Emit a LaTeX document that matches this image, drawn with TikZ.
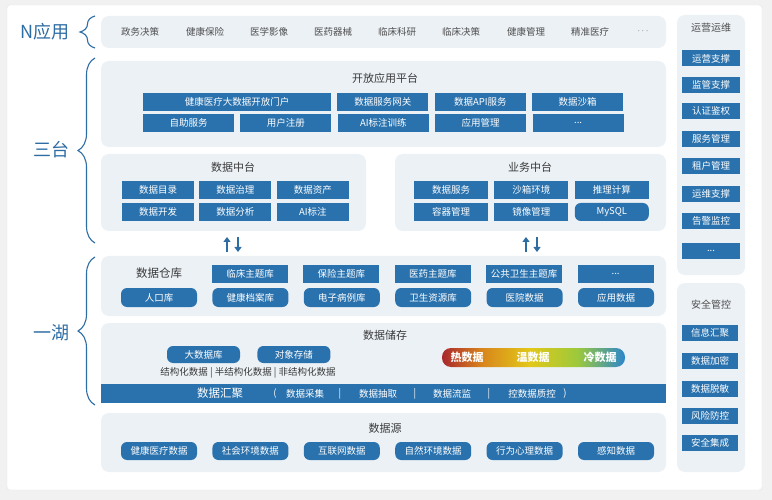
\documentclass[tikz,border=0pt]{standalone}
\usepackage{fontspec}
\setmainfont{Noto Sans CJK SC}
\usetikzlibrary{positioning,arrows.meta}
\usetikzlibrary{decorations.pathreplacing}
\usepackage{xcolor}

\definecolor{boxblue}{HTML}{2A72AE}
\definecolor{panelgray}{HTML}{ECF1F6}
\definecolor{labelblue}{HTML}{2E6DA4}
\definecolor{titlegray}{HTML}{3A3A3A}
\definecolor{pagegray}{HTML}{F1F1F1}
\definecolor{heatred}{HTML}{A9272D}
\definecolor{heatorange}{HTML}{D9861C}
\definecolor{heatyellow}{HTML}{E2C818}
\definecolor{heatgreen}{HTML}{9CC93C}
\definecolor{heatblue}{HTML}{2C86CC}
\pgfdeclarehorizontalshading{heatbar}{100bp}{color(0bp)=(heatred); color(25bp)=(heatred); color(36bp)=(heatorange); color(49bp)=(heatyellow); color(62bp)=(heatgreen); color(75bp)=(heatblue); color(100bp)=(heatblue)}

\begin{document}
\begin{tikzpicture}[x=1pt,y=-1pt,node distance=5pt,
  panel/.style={fill=panelgray,rounded corners=8pt,inner sep=0pt},
  bbox/.style={fill=boxblue,text=white,inner sep=0pt,minimum height=18pt,font=\fontsize{9.5}{10}\selectfont},
  pill/.style={bbox,rounded corners=6pt},
  sidebox/.style={bbox,minimum width=58pt,minimum height=16pt},
  ptitle/.style={text=titlegray,font=\fontsize{11}{12}\selectfont},
  appitem/.style={text=titlegray!90,font=\fontsize{9.5}{10}\selectfont},
  biglabel/.style={text=labelblue,font=\fontsize{18}{20}\selectfont},
  sbrace/.style={draw=labelblue,line width=1.1pt,decorate,decoration={brace,amplitude=17pt}},
  barfont/.style={text=white,font=\fontsize{9.5}{10}\selectfont},
  updown/.style={draw=labelblue,line width=2pt,-{Triangle[length=5pt,width=7pt]}}]

  % page and card
  \fill[pagegray] (0,0) rectangle (772,500);
  \draw[fill=white,draw=black!10,rounded corners=3pt] (7,5) rectangle (762,490);
  \useasboundingbox (0,0) rectangle (772,500);

  % left labels and braces
  \node[biglabel] (lbN)  at (45,32)  {N应用};
  \node[biglabel] (lbS)  at (51,150) {三台};
  \node[biglabel] (lbH)  at (51,333) {一湖};
  \coordinate (bN1) at (95,48);  \coordinate (bN2) at (95,16);
  \coordinate (bS1) at (95,243); \coordinate (bS2) at (95,58);
  \coordinate (bH1) at (95,405); \coordinate (bH2) at (95,257);
  \draw[sbrace,decoration={amplitude=15pt}] (bN1) -- (bN2);
  \draw[sbrace] (bS1) -- (bS2);
  \draw[sbrace] (bH1) -- (bH2);

  % N applications
  \node[panel,minimum width=565pt,minimum height=32pt] (napp) at (383.5,32) {};
  \node[appitem] (a1) at (140,32) {政务决策};
  \node[appitem] (a2) at (205,32) {健康保险};
  \node[appitem] (a3) at (269,32) {医学影像};
  \node[appitem] (a4) at (333,32) {医药器械};
  \node[appitem] (a5) at (397,32) {临床科研};
  \node[appitem] (a6) at (461,32) {临床决策};
  \node[appitem] (a7) at (526,32) {健康管理};
  \node[appitem] (a8) at (590,32) {精准医疗};
  \node[appitem] (a9) at (643,31) {$\cdots$};

  % open platform
  \node[panel,minimum width=565pt,minimum height=86pt] (open) at (383.5,104) {};
  \node[ptitle] (openT) at (385,78) {开放应用平台};
  \node[bbox,minimum width=188pt] (op1) at (237,102) {健康医疗大数据开放门户};
  \node[bbox,minimum width=91pt,right=6pt of op1] (op2) {数据服务网关};
  \node[bbox,minimum width=91pt,right=6pt of op2] (op3) {数据API服务};
  \node[bbox,minimum width=91pt,right=6pt of op3] (op4) {数据沙箱};
  \node[bbox,minimum width=91pt] (op5) at (188.5,123) {自助服务};
  \node[bbox,minimum width=91pt,right=6pt of op5] (op6) {用户注册};
  \node[bbox,minimum width=91pt,right=6pt of op6] (op7) {AI标注训练};
  \node[bbox,minimum width=91pt,right=6pt of op7] (op8) {应用管理};
  \node[bbox,minimum width=91pt,right=6pt of op8] (op9) {...};

  % data middle platform
  \node[panel,minimum width=265pt,minimum height=77pt] (dmid) at (233.5,192.5) {};
  \node[ptitle] (dmidT) at (233,167) {数据中台};
  \node[bbox,minimum width=72pt] (dm1) at (158,190) {数据目录};
  \node[bbox,minimum width=72pt,right=of dm1] (dm2) {数据治理};
  \node[bbox,minimum width=72pt,right=of dm2] (dm3) {数据资产};
  \node[bbox,minimum width=72pt] (dm4) at (158,212) {数据开发};
  \node[bbox,minimum width=72pt,right=of dm4] (dm5) {数据分析};
  \node[bbox,minimum width=72pt,right=of dm5] (dm6) {AI标注};

  % business middle platform
  \node[panel,minimum width=271pt,minimum height=77pt] (bmid) at (530.5,192.5) {};
  \node[ptitle] (bmidT) at (530,167) {业务中台};
  \node[bbox,minimum width=74pt] (bm1) at (451,190) {数据服务};
  \node[bbox,minimum width=74pt,right=6pt of bm1] (bm2) {沙箱环境};
  \node[bbox,minimum width=74pt,right=6pt of bm2] (bm3) {推理计算};
  \node[bbox,minimum width=74pt] (bm4) at (451,212) {容器管理};
  \node[bbox,minimum width=74pt,right=6pt of bm4] (bm5) {镜像管理};
  \node[pill,minimum width=74pt,right=6pt of bm5] (bm6) {MySQL};

  % data warehouse
  \node[panel,minimum width=565pt,minimum height=60pt] (dw) at (383.5,286) {};
  \coordinate (dwL) at (227,256); \coordinate (dwR) at (526,256);
  \coordinate (dmB) at (238,237); \coordinate (bmB) at (537,237);
  \draw[updown] (dwL) ++(0,-4) -- ++(0,-15);
  \draw[updown] (dmB) -- ++(0,15);
  \draw[updown] (dwR) ++(0,-4) -- ++(0,-15);
  \draw[updown] (bmB) -- ++(0,15);
  \node[ptitle,font=\fontsize{11.5}{12}\selectfont] (dwT) at (159,273) {数据仓库};
  \node[bbox,minimum width=76pt] (dw1) at (250,274) {临床主题库};
  \node[bbox,minimum width=76pt,right=15pt of dw1] (dw2) {保险主题库};
  \node[bbox,minimum width=76pt,right=15pt of dw2] (dw3) {医药主题库};
  \node[bbox,minimum width=76pt,right=15pt of dw3] (dw4) {公共卫生主题库};
  \node[bbox,minimum width=76pt,right=15pt of dw4] (dw5) {...};
  \node[pill,minimum width=76pt,minimum height=19pt] (dw6) at (159,297.5) {人口库};
  \node[pill,minimum width=76pt,minimum height=19pt,right=15pt of dw6] (dw7) {健康档案库};
  \node[pill,minimum width=76pt,minimum height=19pt,right=15pt of dw7] (dw8) {电子病例库};
  \node[pill,minimum width=76pt,minimum height=19pt,right=15pt of dw8] (dw9) {卫生资源库};
  \node[pill,minimum width=76pt,minimum height=19pt,right=15pt of dw9] (dw10) {医院数据};
  \node[pill,minimum width=76pt,minimum height=19pt,right=15pt of dw10] (dw11) {应用数据};

  % data storage
  \node[panel,minimum width=565pt,minimum height=72pt] (ds) at (383.5,359) {};
  \node[ptitle] (dsT) at (385,335) {数据储存};
  \node[pill,minimum width=73pt,minimum height=17pt] (ds1) at (203.5,354.5) {大数据库};
  \node[pill,minimum width=73pt,minimum height=17pt,right=17pt of ds1] (ds2) {对象存储};
  \node[text=titlegray,font=\fontsize{9.5}{10}\selectfont] (dsS) at (248,373) {结构化数据 | 半结构化数据 | 非结构化数据};
  \node[shading=heatbar,rounded corners=9pt,minimum width=183pt,minimum height=19pt,inner sep=0pt] (heat) at (533.5,357.5) {};
  \node[text=white,font=\bfseries\fontsize{11}{12}\selectfont] (hot)  at (467,357.5) {热数据};
  \node[text=white,font=\bfseries\fontsize{11}{12}\selectfont] (warm) at (533,357.5) {温数据};
  \node[text=white,font=\bfseries\fontsize{11}{12}\selectfont] (cold) at (600,357.5) {冷数据};

  % data aggregation bar
  \node[fill=boxblue,minimum width=565pt,minimum height=19pt,inner sep=0pt] (agg) at (383.5,393.5) {};
  \node[barfont,font=\fontsize{11.5}{12}\selectfont] (agg0) at (220,393.5) {数据汇聚};
  \node[barfont] (aggL) at (275,393.5) {(};
  \node[barfont] (agg1) at (305,393.5) {数据采集};
  \node[barfont] (s1)   at (340,393.5) {|};
  \node[barfont] (agg2) at (378,393.5) {数据抽取};
  \node[barfont] (s2)   at (415,393.5) {|};
  \node[barfont] (agg3) at (452,393.5) {数据流监};
  \node[barfont] (s3)   at (489,393.5) {|};
  \node[barfont] (agg4) at (532,393.5) {控数据质控};
  \node[barfont] (aggR) at (565,393.5) {)};

  % data sources
  \node[panel,minimum width=565pt,minimum height=59pt] (src) at (383.5,442.5) {};
  \node[ptitle] (srcT) at (385,428) {数据源};
  \node[pill,minimum width=76pt] (sr1) at (159,451) {健康医疗数据};
  \node[pill,minimum width=76pt,right=15pt of sr1] (sr2) {社会环境数据};
  \node[pill,minimum width=76pt,right=15pt of sr2] (sr3) {互联网数据};
  \node[pill,minimum width=76pt,right=15pt of sr3] (sr4) {自然环境数据};
  \node[pill,minimum width=76pt,right=15pt of sr4] (sr5) {行为心理数据};
  \node[pill,minimum width=76pt,right=15pt of sr5] (sr6) {感知数据};

  % operations column
  \node[panel,minimum width=68pt,minimum height=260pt] (ops) at (711,145) {};
  \node[appitem,font=\fontsize{10}{11}\selectfont] (opsT) at (711,28) {运营运维};
  \node[sidebox] (o1) at (711,58.5) {运营支撑};
  \node[sidebox] (o2) at (711,85)   {监管支撑};
  \node[sidebox] (o3) at (711,111)  {认证鉴权};
  \node[sidebox] (o4) at (711,139)  {服务管理};
  \node[sidebox] (o5) at (711,166)  {租户管理};
  \node[sidebox] (o6) at (711,194)  {运维支撑};
  \node[sidebox] (o7) at (711,221)  {告警监控};
  \node[sidebox] (o8) at (711,251)  {...};

  % security column
  \node[panel,minimum width=68pt,minimum height=189pt] (sec) at (711,377.5) {};
  \node[appitem,font=\fontsize{10}{11}\selectfont] (secT) at (711,305) {安全管控};
  \node[sidebox,minimum width=56pt] (c1) at (710,333) {信息汇聚};
  \node[sidebox,minimum width=56pt] (c2) at (710,361) {数据加密};
  \node[sidebox,minimum width=56pt] (c3) at (710,389) {数据脱敏};
  \node[sidebox,minimum width=56pt] (c4) at (710,416) {风险防控};
  \node[sidebox,minimum width=56pt] (c5) at (710,443) {安全集成};
\end{tikzpicture}
\end{document}
